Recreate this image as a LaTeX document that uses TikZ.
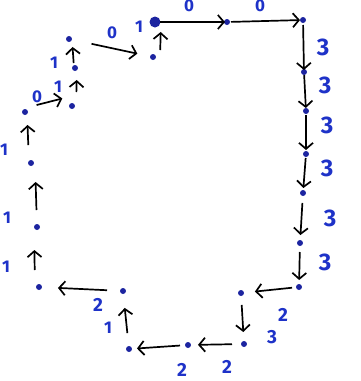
\documentclass[tikz,border=0pt]{standalone}
\usepackage{fontspec}
\setsansfont{Fira Sans}
\usetikzlibrary{arrows.meta}
\definecolor{dotblue}{RGB}{28,36,160}
\definecolor{labblue}{RGB}{30,50,200}
\tikzset{
  dot/.style={circle,fill=dotblue,inner sep=0pt,minimum size=6pt},
  bigdot/.style={circle,fill=dotblue,inner sep=0pt,minimum size=11pt},
  edge/.style={line width=1.7pt,black,-{Straight Barb[length=6pt,width=14pt,line width=1.7pt]}},
  lab/.style={text=labblue,font=\sffamily\bfseries\fontsize{17}{17}\selectfont,inner sep=0pt},
  labbig/.style={text=labblue,font=\sffamily\bfseries\fontsize{24}{24}\selectfont,inner sep=0pt},
  labmid/.style={text=labblue,font=\sffamily\bfseries\fontsize{19}{19}\selectfont,inner sep=0pt}
}
\begin{document}
\begin{tikzpicture}[x=1pt,y=-1pt]
\useasboundingbox (0,0) rectangle (360,381);
% dots
\node[bigdot] (d1) at (155,22) {};
\node[dot] (d2) at (227,22) {};
\node[dot] (d3) at (303,20) {};
\node[dot] (d4) at (304,72) {};
\node[dot] (d5) at (306,111) {};
\node[dot] (d6) at (306,154) {};
\node[dot] (d7) at (303,193) {};
\node[dot] (d8) at (300,243) {};
\node[dot] (d9) at (299,287) {};
\node[dot] (d10) at (241,293) {};
\node[dot] (d11) at (244,344) {};
\node[dot] (d12) at (188,345) {};
\node[dot] (d13) at (129,349) {};
\node[dot] (d14) at (123,291) {};
\node[dot] (d15) at (39,287) {};
\node[dot] (d16) at (37,227) {};
\node[dot] (d17) at (31,163) {};
\node[dot] (d18) at (25,112) {};
\node[dot] (d19) at (72,106) {};
\node[dot] (d20) at (75,68) {};
\node[dot] (d21) at (69,39) {};
\node[dot] (d22) at (153,57) {};
% edges
\draw[edge,shorten <=5pt,shorten >=2pt] (d1.center) -- (d2.center);
\draw[edge,shorten <=4pt,shorten >=3pt] (d2.center) -- (d3.center);
\draw[edge,shorten <=5pt,shorten >=2pt] (d3.center) -- (d4.center);
\draw[edge,shorten <=3pt,shorten >=3pt] (d4.center) -- (d5.center);
\draw[edge,shorten <=4pt,shorten >=4pt] (d5.center) -- (d6.center);
\draw[edge,shorten <=4pt,shorten >=5pt] (d6.center) -- (d7.center);
\draw[edge,shorten <=10pt,shorten >=8pt] (d7.center) -- (d8.center);
\draw[edge,shorten <=9pt,shorten >=7pt] (d8.center) -- (d9.center);
\draw[edge,shorten <=7pt,shorten >=14pt] (d9.center) -- (d10.center);
\draw[edge,shorten <=12pt,shorten >=12pt] (d10.center) -- (d11.center);
\draw[edge,shorten <=12pt,shorten >=10pt] (d11.center) -- (d12.center);
\draw[edge,shorten <=8pt,shorten >=8pt] (d12.center) -- (d13.center);
\draw[edge,shorten <=16pt,shorten >=17pt] (d13.center) -- (d14.center);
\draw[edge,shorten <=16pt,shorten >=19pt] (d14.center) -- (d15.center);
\draw[edge,shorten <=17pt,shorten >=23pt] ([xshift=-4pt]d15.center) -- ([xshift=-3pt]d16.center);
\draw[edge,shorten <=17pt,shorten >=19pt] (d16.center) -- ([xshift=4pt]d17.center);
\draw[edge,shorten <=18pt,shorten >=13pt] ([xshift=-2pt]d17.center) -- ([xshift=2pt]d18.center);
\draw[edge,shorten <=12pt,shorten >=10pt] ([yshift=4pt]d18.center) -- ([yshift=10pt]d19.center);
\draw[edge,shorten <=14pt,shorten >=12pt] ([xshift=4pt]d19.center) -- ([xshift=2pt]d20.center);
\draw[edge,shorten <=5pt,shorten >=8pt] ([xshift=-1pt]d20.center) -- ([xshift=3pt]d21.center);
\draw[edge,shorten <=23pt,shorten >=16pt] (d21.center) -- (d22.center);
\draw[edge,shorten <=7pt,shorten >=10pt] ([xshift=7pt]d22.center) -- ([xshift=6pt]d1.center);
% labels
\node[lab] (l1) at (112,33) {0};
\node[lab] (l2) at (139,27) {1};
\node[lab] (l3) at (54,63) {1};
\node[lab] (l4) at (58,87) {1};
\node[lab] (l5) at (37,97) {0};
\node[lab] (l6) at (4,150) {1};
\node[lab] (l7) at (7,218) {1};
\node[lab] (l8) at (6,267) {1};
\node[lab] (l9) at (189,6) {0};
\node[lab] (l10) at (260,6) {0};
\node[labbig] (l11) at (323,47) {3};
\node[labbig] (l12) at (325,85) {3};
\node[labbig] (l13) at (327,125) {3};
\node[labbig] (l14) at (327,168) {3};
\node[labbig] (l15) at (330,218) {3};
\node[labbig] (l16) at (325,262) {3};
\node[labmid] (l17) at (283,315) {2};
\node[labmid] (l18) at (272,337) {3};
\node[labmid] (l19) at (227,367) {2};
\node[labmid] (l20) at (182,370) {2};
\node[lab] (l21) at (108,328) {1};
\node[labmid] (l22) at (98,305) {2};
\end{tikzpicture}
\end{document}
